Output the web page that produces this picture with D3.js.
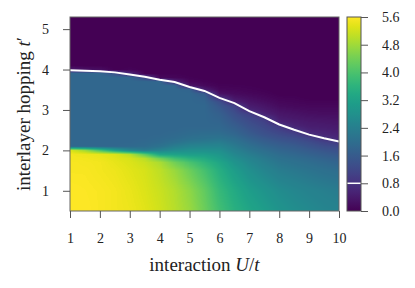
<!DOCTYPE html>
<html>
<head>
<meta charset="utf-8">
<script src="https://cdn.jsdelivr.net/npm/d3@7"></script>
<style>
body { margin: 0; background: #fff; }
text { font-family: "Liberation Serif", "Times New Roman", serif; fill: #222; }
</style>
</head>
<body>
<div class="gap-plot"></div>
<script>
// grid: one array per U value, entries follow tHop
const uVals = [1, 1.5, 2, 2.5, 3, 3.5, 4, 4.5, 5, 5.5, 6, 6.5, 7, 7.5, 8, 8.5, 9, 9.5, 10];
const tHop = [0.5, 1.0, 1.5, 1.7, 1.8, 1.9, 2.0, 2.1, 2.2, 2.3, 2.4, 2.5, 2.6, 2.7, 2.8, 2.9, 3.0,
	3.1, 3.2, 3.3, 3.4, 3.5, 3.6, 3.7, 3.8, 3.9, 4.0, 4.1, 4.5, 5.3];
const gap = [
	[5.6,5.6,5.55,5.55,5.5,5.5,5.3,1.85,1.85,1.85,1.85,1.85,1.85,1.85,1.85,1.85,1.85,1.85,1.85,1.85,1.85,1.85,1.85,1.85,1.85,1.85,0.4,0,0,0],
	[5.6,5.58,5.55,5.52,5.5,5.45,4.8,1.85,1.85,1.85,1.85,1.85,1.85,1.85,1.85,1.85,1.85,1.85,1.85,1.85,1.85,1.85,1.85,1.85,1.85,1.85,0.25,0,0,0],
	[5.55,5.55,5.5,5.5,5.45,5.4,4.0,1.85,1.85,1.85,1.85,1.85,1.85,1.85,1.85,1.85,1.85,1.85,1.85,1.85,1.85,1.85,1.85,1.85,1.85,1.85,0.2,0,0,0],
	[5.5,5.5,5.45,5.4,5.35,5.3,3.2,1.85,1.85,1.85,1.85,1.85,1.85,1.85,1.85,1.85,1.85,1.85,1.85,1.85,1.85,1.85,1.85,1.85,1.85,1.4,0,0,0,0],
	[5.45,5.42,5.35,5.3,5.25,5.0,2.6,1.9,1.85,1.85,1.85,1.85,1.85,1.85,1.85,1.85,1.85,1.85,1.85,1.85,1.85,1.85,1.85,1.85,1.85,0.6,0.05,0,0,0],
	[5.35,5.3,5.25,5.15,5.0,4.2,2.3,1.95,1.9,1.85,1.85,1.85,1.85,1.85,1.85,1.85,1.85,1.85,1.85,1.85,1.85,1.85,1.85,1.85,1.2,0.02,0,0,0,0],
	[5.2,5.15,5.05,4.9,4.4,3.3,2.5,2.1,1.95,1.9,1.85,1.85,1.85,1.85,1.85,1.85,1.85,1.85,1.85,1.85,1.85,1.85,1.85,1.85,0.1,0.02,0,0,0,0],
	[5.0,4.95,4.75,4.4,3.9,3.2,2.7,2.35,2.1,1.95,1.9,1.85,1.85,1.85,1.85,1.85,1.85,1.85,1.85,1.85,1.85,1.85,1.85,0.6,0.08,0.02,0,0,0,0],
	[4.75,4.65,4.35,4.0,3.6,3.1,2.8,2.5,2.25,2.05,1.95,1.9,1.85,1.85,1.85,1.85,1.85,1.85,1.85,1.85,1.85,1.8,0.3,0.08,0.03,0,0,0,0,0],
	[4.35,4.25,3.95,3.65,3.4,3.1,2.8,2.55,2.3,2.1,2.0,1.9,1.85,1.85,1.85,1.85,1.85,1.85,1.8,1.75,1.6,0.45,0.12,0.04,0,0,0,0,0,0],
	[3.9,3.75,3.5,3.3,3.1,2.95,2.75,2.55,2.35,2.15,2.0,1.9,1.85,1.8,1.75,1.7,1.6,1.5,1.35,0.8,0.25,0.1,0.04,0,0,0,0,0,0,0],
	[3.55,3.4,3.1,2.9,2.75,2.6,2.45,2.3,2.15,2.0,1.85,1.75,1.65,1.55,1.45,1.35,1.25,1.1,0.5,0.3,0.15,0.08,0.03,0,0,0,0,0,0,0],
	[3.3,3.1,2.78,2.6,2.5,2.35,2.2,2.05,1.9,1.75,1.6,1.5,1.4,1.3,1.2,1.05,0.6,0.42,0.3,0.2,0.1,0.05,0.02,0,0,0,0,0,0,0],
	[3.1,2.9,2.55,2.38,2.28,2.15,2.0,1.85,1.7,1.55,1.4,1.3,1.2,1.1,0.95,0.55,0.4,0.3,0.2,0.12,0.06,0.02,0,0,0,0,0,0,0,0],
	[2.9,2.7,2.35,2.18,2.08,1.96,1.83,1.7,1.55,1.4,1.25,1.1,0.95,0.55,0.42,0.33,0.25,0.16,0.1,0.05,0,0,0,0,0,0,0,0,0,0],
	[2.75,2.58,2.25,2.08,1.98,1.86,1.73,1.6,1.45,1.3,1.1,0.85,0.55,0.45,0.35,0.28,0.2,0.12,0.08,0.04,0,0,0,0,0,0,0,0,0,0],
	[2.65,2.48,2.15,1.98,1.88,1.74,1.6,1.45,1.3,1.1,0.75,0.55,0.45,0.38,0.3,0.22,0.16,0.1,0.05,0,0,0,0,0,0,0,0,0,0,0],
	[2.55,2.4,2.05,1.88,1.76,1.62,1.48,1.3,1.1,0.8,0.6,0.5,0.42,0.35,0.28,0.2,0.15,0.1,0.05,0,0,0,0,0,0,0,0,0,0,0],
	[2.5,2.32,1.98,1.78,1.66,1.52,1.38,1.2,0.95,0.62,0.52,0.45,0.38,0.32,0.26,0.2,0.15,0.1,0.05,0,0,0,0,0,0,0,0,0,0,0]
];
// white contour (level 0.8)
const contourLevel = 0.8;
const contourU = [1, 1.5, 2, 2.5, 3, 3.5, 4, 4.5, 5, 5.5, 6, 6.5, 7, 7.5, 8, 8.5, 9, 9.5, 10];
const contourT = [3.98, 3.97, 3.96, 3.93, 3.88, 3.82, 3.75, 3.69, 3.57, 3.47, 3.30, 3.17, 2.97, 2.82, 2.64, 2.51, 2.39, 2.30, 2.22];

const xTicks = [1, 2, 3, 4, 5, 6, 7, 8, 9, 10];
const yTicks = [1, 2, 3, 4, 5];
const cbTicks = [0, 0.8, 1.6, 2.4, 3.2, 4.0, 4.8, 5.6];

const width = 415;
const height = 288;
const pLeft = 70, pRight = 339, pTop = 17, pBottom = 211;
const cbLeft = 347, cbRight = 361;
const serif = '"Liberation Serif", "Times New Roman", serif';

const x = d3.scaleLinear().domain([1, 10]).range([pLeft, pRight]);
const y = d3.scaleLinear().domain([0.5, 5.3]).range([pBottom, pTop]);
const cy = d3.scaleLinear().domain([0, 5.6]).range([pBottom, pTop]);
const color = d3.scaleSequential(d3.interpolateViridis).domain([0, 5.6]);

const svg = d3.select('.gap-plot')
	.append('svg')
	.attr('width', width)
	.attr('height', height);

// paint the grid onto a canvas, smoothed like imshow
const cw = pRight - pLeft, ch = pBottom - pTop;
const canvas = document.createElement('canvas');
canvas.width = cw;
canvas.height = ch;
const ctx = canvas.getContext('2d');
const img = ctx.createImageData(cw, ch);
function locate(arr, v) {
	let i = d3.bisectRight(arr, v) - 1;
	i = Math.max(0, Math.min(arr.length - 2, i));
	const f = (v - arr[i]) / (arr[i + 1] - arr[i]);
	return [i, Math.max(0, Math.min(1, f))];
}
for (let py = 0; py < ch; py++) {
	const [j, fy] = locate(tHop, y.invert(pTop + py + 0.5));
	for (let px = 0; px < cw; px++) {
		const [i, fx] = locate(uVals, x.invert(pLeft + px + 0.5));
		const v = (1 - fx) * ((1 - fy) * gap[i][j] + fy * gap[i][j + 1])
			+ fx * ((1 - fy) * gap[i + 1][j] + fy * gap[i + 1][j + 1]);
		const c = d3.rgb(color(v));
		const k = 4 * (py * cw + px);
		img.data[k] = c.r;
		img.data[k + 1] = c.g;
		img.data[k + 2] = c.b;
		img.data[k + 3] = 255;
	}
}
ctx.putImageData(img, 0, 0);

svg.append('image')
	.attr('x', pLeft)
	.attr('y', pTop)
	.attr('width', cw)
	.attr('height', ch)
	.attr('preserveAspectRatio', 'none')
	.attr('href', canvas.toDataURL());

svg.append('path')
	.datum(contourU.map((u, i) => [u, contourT[i]]))
	.attr('d', d3.line().x(d => x(d[0])).y(d => y(d[1])))
	.attr('fill', 'none')
	.attr('stroke', 'white')
	.attr('stroke-width', 2);

svg.append('rect')
	.attr('x', pLeft)
	.attr('y', pTop)
	.attr('width', cw)
	.attr('height', ch)
	.attr('fill', 'none')
	.attr('stroke', '#666')
	.attr('stroke-width', 1);

// axes
const xAxis = svg.append('g')
	.attr('transform', `translate(0,${pBottom})`)
	.call(d3.axisBottom(x).tickValues(xTicks).tickSize(7).tickPadding(15).tickFormat(d3.format('d')));
const yAxis = svg.append('g')
	.attr('transform', `translate(${pLeft},0)`)
	.call(d3.axisLeft(y).tickValues(yTicks).tickSize(7).tickPadding(14).tickFormat(d3.format('d')));

// colorbar
const grad = svg.append('defs').append('linearGradient')
	.attr('id', 'cbgrad')
	.attr('x1', 0).attr('y1', 1).attr('x2', 0).attr('y2', 0);
grad.selectAll('stop')
	.data(d3.range(0, 1.0001, 0.05))
	.enter()
	.append('stop')
	.attr('offset', d => d)
	.attr('stop-color', d => d3.interpolateViridis(d));

svg.append('rect')
	.attr('x', cbLeft)
	.attr('y', pTop)
	.attr('width', cbRight - cbLeft)
	.attr('height', ch)
	.attr('fill', 'url(#cbgrad)');
svg.append('line')
	.attr('x1', cbLeft).attr('x2', cbRight)
	.attr('y1', cy(contourLevel)).attr('y2', cy(contourLevel))
	.attr('stroke', 'white')
	.attr('stroke-width', 1.5);
svg.append('rect')
	.attr('x', cbLeft)
	.attr('y', pTop)
	.attr('width', cbRight - cbLeft)
	.attr('height', ch)
	.attr('fill', 'none')
	.attr('stroke', '#555')
	.attr('stroke-width', 1);

const cAxis = svg.append('g')
	.attr('transform', `translate(${cbRight},0)`)
	.call(d3.axisRight(cy).tickValues(cbTicks).tickSize(7).tickPadding(14).tickFormat(d3.format('.1f')));

[xAxis, yAxis, cAxis].forEach(g => {
	g.attr('font-family', serif);
	g.select('.domain').remove();
	g.selectAll('.tick line').attr('stroke', '#555');
	g.selectAll('.tick text')
		.style('font-family', serif)
		.attr('font-size', 14)
		.attr('fill', '#222');
});

// axis titles
const xLabel = svg.append('text')
	.attr('x', (pLeft + pRight) / 2)
	.attr('y', 271)
	.attr('text-anchor', 'middle')
	.style('font-family', serif)
	.attr('font-size', 19);
xLabel.append('tspan').text('interaction ');
xLabel.append('tspan').attr('font-style', 'italic').text('U');
xLabel.append('tspan').text('/');
xLabel.append('tspan').attr('font-style', 'italic').text('t');

const yLabel = svg.append('text')
	.attr('transform', `translate(30,${(pTop + pBottom) / 2}) rotate(-90)`)
	.attr('text-anchor', 'middle')
	.style('font-family', serif)
	.attr('font-size', 19);
yLabel.append('tspan').text('interlayer hopping ');
yLabel.append('tspan').attr('font-style', 'italic').text('t');
yLabel.append('tspan').text('\u2032');
</script>
</body>
</html>
